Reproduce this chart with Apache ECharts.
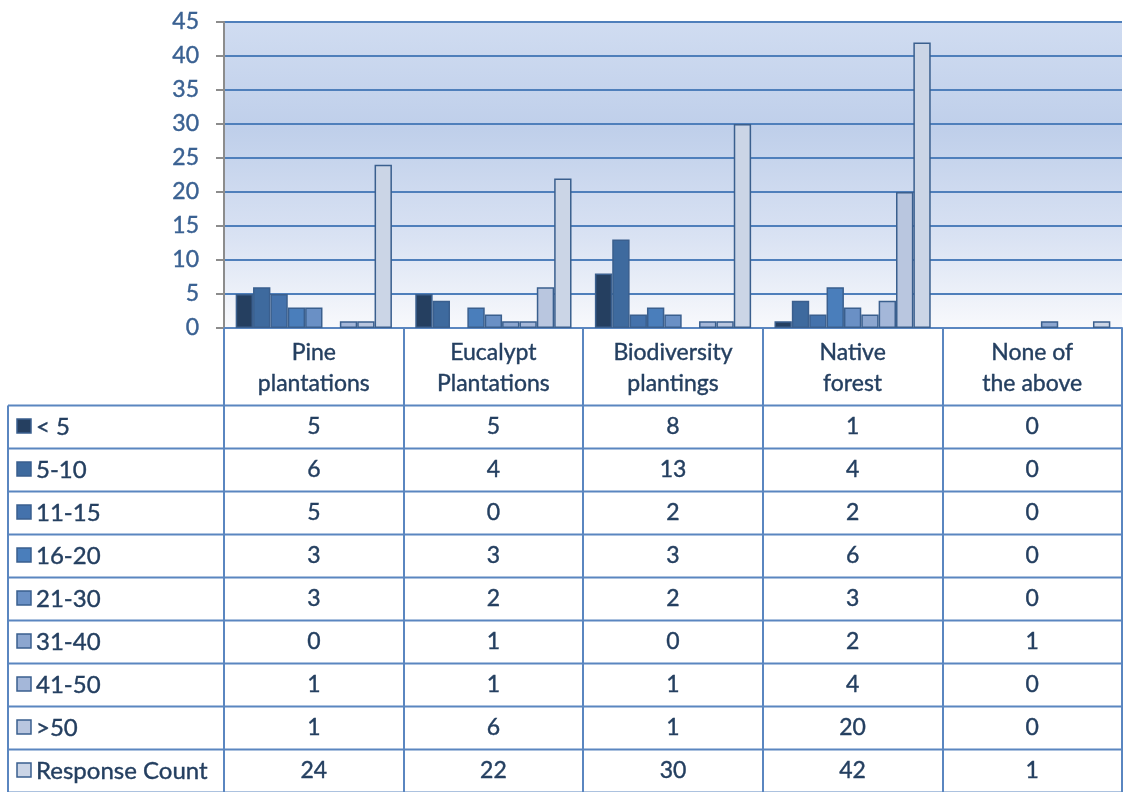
<!DOCTYPE html>
<html>
<head>
<meta charset="utf-8">
<script src="https://cdn.jsdelivr.net/npm/echarts@6/dist/echarts.min.js"></script>
<style>
  html, body { margin: 0; padding: 0; background: #fff; }
  #main { width: 1124px; height: 792px; }
</style>
</head>
<body>
<div id="main"></div>
<script>
// categories (table columns)
const categories = ['Pine\nplantations', 'Eucalypt\nPlantations', 'Biodiversity\nplantings', 'Native\nforest', 'None of\nthe above']
const seriesNames = ['< 5', '5-10', '11-15', '16-20', '21-30', '31-40', '41-50', '>50', 'Response Count']

// values per age band
const under5 = [5, 5, 8, 1, 0]
const from5to10 = [6, 4, 13, 4, 0]
const from11to15 = [5, 0, 2, 2, 0]
const from16to20 = [3, 3, 3, 6, 0]
const from21to30 = [3, 2, 2, 3, 0]
const from31to40 = [0, 1, 0, 2, 1]
const from41to50 = [1, 1, 1, 4, 0]
const over50 = [1, 6, 1, 20, 0]
const responseCount = [24, 22, 30, 42, 1]

const yTicks = [0, 5, 10, 15, 20, 25, 30, 35, 40, 45]

const values = [under5, from5to10, from11to15, from16to20, from21to30, from31to40, from41to50, over50, responseCount]
const colors = ['#253f60', '#3e6a9e', '#4472ac', '#4a7ebb', '#6a90c5', '#8ca6cf', '#a4b7d9', '#b9c6df', '#cbd5e6']

const font = 'Lato, "Open Sans", sans-serif'
const textColor = '#243f60'
const lineColor = '#5a86c0'

const myChart = echarts.init(document.getElementById('main'))

// zero bars get no outline (Excel draws nothing for them)
const series = seriesNames.map((name, i) => ({
	name: name,
	type: 'bar',
	data: values[i].map(v => (v === 0 ? { value: v, itemStyle: { borderWidth: 0 } } : v)),
	barGap: 0,
	barCategoryGap: '13%',
	itemStyle: {
		color: colors[i],
		borderColor: '#3a5f8e',
		borderWidth: 1.5
	}
}))

myChart.setOption({
	animation: false,
	textStyle: { fontFamily: font },
	grid: {
		left: 224,
		right: 2,
		top: 22,
		bottom: 464,
		show: true,
		borderWidth: 0,
		backgroundColor: new echarts.graphic.LinearGradient(0, 0, 0, 1, [
			{ offset: 0, color: '#d0dcf1' },
			{ offset: 0.35, color: '#bfcfea' },
			{ offset: 0.7, color: '#d9e2f3' },
			{ offset: 1, color: '#f8f9fc' }
		])
	},
	xAxis: {
		type: 'category',
		data: categories,
		axisLine: { lineStyle: { color: lineColor, width: 2 } },
		axisTick: {
			show: true,
			alignWithLabel: false,
			length: 464,
			lineStyle: { color: lineColor, width: 2 }
		},
		axisLabel: {
			color: textColor,
			fontSize: 23,
			lineHeight: 31,
			margin: 9,
			fontFamily: font,
			textBorderColor: textColor,
			textBorderWidth: 0.4
		}
	},
	yAxis: {
		type: 'value',
		min: yTicks[0],
		max: yTicks[yTicks.length - 1],
		interval: 5,
		axisLine: { show: true, lineStyle: { color: '#8c8c8c', width: 2 } },
		axisTick: { show: true, length: 8, lineStyle: { color: '#8c8c8c', width: 2 } },
		splitLine: { lineStyle: { color: '#4f7fbb', width: 2 } },
		axisLabel: {
			color: '#3a6192',
			fontSize: 23,
			margin: 25,
			fontFamily: font,
			textBorderColor: '#3a6192',
			textBorderWidth: 0.4
		}
	},
	series: series
})

// data table under the chart
const rowTop = 405.5
const rowH = 43
const tableLeft = 8
const tableRight = 1123
const elements = []

for (let r = 0; r <= seriesNames.length; ++r) {
	const y = rowTop + rowH * r
	elements.push({
		type: 'line',
		shape: { x1: tableLeft, y1: y, x2: tableRight, y2: y },
		style: { stroke: lineColor, lineWidth: 2 }
	})
}
elements.push({
	type: 'line',
	shape: { x1: tableLeft, y1: rowTop, x2: tableLeft, y2: 792 },
	style: { stroke: lineColor, lineWidth: 2 }
})

seriesNames.forEach((name, r) => {
	const cy = rowTop + rowH * (r + 0.5)
	elements.push({
		type: 'rect',
		shape: { x: 17, y: cy - 8, width: 14, height: 14 },
		style: { fill: colors[r], stroke: '#3a5f8e', lineWidth: 1.5 }
	})
	elements.push({
		type: 'text',
		x: 36,
		y: cy,
		style: {
			text: name,
			fill: textColor,
			stroke: textColor,
			lineWidth: 0.4,
			font: '24px ' + font,
			align: 'left',
			verticalAlign: 'middle'
		}
	})
	values[r].forEach((v, i) => {
		const cx = myChart.convertToPixel({ xAxisIndex: 0 }, i)
		elements.push({
			type: 'text',
			x: cx,
			y: cy,
			style: {
				text: String(v),
				fill: textColor,
				stroke: textColor,
				lineWidth: 0.4,
				font: '23px ' + font,
				align: 'center',
				verticalAlign: 'middle'
			}
		})
	})
})

myChart.setOption({ graphic: { elements: elements } })
</script>
</body>
</html>
